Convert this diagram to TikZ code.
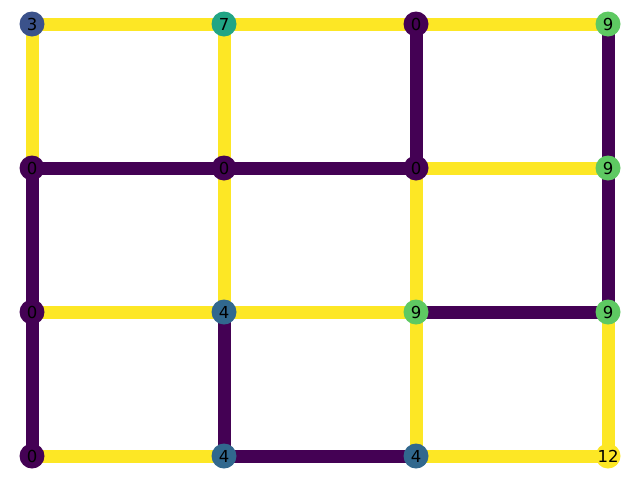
\documentclass[tikz,border=0pt]{standalone}
\usepackage{fontspec}
\setmainfont{DejaVu Sans}
\usetikzlibrary{backgrounds}
\definecolor{vA}{HTML}{440154}
\definecolor{vB}{HTML}{3B528B}
\definecolor{vC}{HTML}{31688E}
\definecolor{vD}{HTML}{21A585}
\definecolor{vE}{HTML}{5EC962}
\definecolor{vF}{HTML}{FDE725}
\begin{document}
\begin{tikzpicture}[x=1pt,y=-1pt,
  vtx/.style={circle,minimum size=25pt,inner sep=0pt,font=\fontsize{16.5pt}{18pt}\selectfont},
  hi/.style={draw=vF,line width=13pt},
  lo/.style={draw=vA,line width=13pt}]
\useasboundingbox (0,0) rectangle (640,480);
% nodes
\node[vtx,fill=vB] (a1) at (32,24) {3};
\node[vtx,fill=vD] (a2) at (224,24) {7};
\node[vtx,fill=vA] (a3) at (416,24) {0};
\node[vtx,fill=vE] (a4) at (608,24) {9};
\node[vtx,fill=vA] (b1) at (32,168) {0};
\node[vtx,fill=vA] (b2) at (224,168) {0};
\node[vtx,fill=vA] (b3) at (416,168) {0};
\node[vtx,fill=vE] (b4) at (608,168) {9};
\node[vtx,fill=vA] (c1) at (32,312) {0};
\node[vtx,fill=vC] (c2) at (224,312) {4};
\node[vtx,fill=vE] (c3) at (416,312) {9};
\node[vtx,fill=vE] (c4) at (608,312) {9};
\node[vtx,fill=vA] (d1) at (32,456) {0};
\node[vtx,fill=vC] (d2) at (224,456) {4};
\node[vtx,fill=vC] (d3) at (416,456) {4};
\node[vtx,fill=vF] (d4) at (608,456) {12};
% edges behind nodes
\begin{pgfonlayer}{background}
\draw[hi] (a1.center) -- (a2.center);
\draw[hi] (a2.center) -- (a3.center);
\draw[hi] (a3.center) -- (a4.center);
\draw[hi] (a1.center) -- (b1.center);
\draw[hi] (a2.center) -- (b2.center);
\draw[lo] (a3.center) -- (b3.center);
\draw[lo] (a4.center) -- (b4.center);
\draw[lo] (b1.center) -- (b2.center);
\draw[lo] (b2.center) -- (b3.center);
\draw[hi] (b3.center) -- (b4.center);
\draw[lo] (b1.center) -- (c1.center);
\draw[hi] (b2.center) -- (c2.center);
\draw[hi] (b3.center) -- (c3.center);
\draw[lo] (b4.center) -- (c4.center);
\draw[hi] (c1.center) -- (c2.center);
\draw[hi] (c2.center) -- (c3.center);
\draw[lo] (c3.center) -- (c4.center);
\draw[lo] (c1.center) -- (d1.center);
\draw[lo] (c2.center) -- (d2.center);
\draw[hi] (c3.center) -- (d3.center);
\draw[hi] (c4.center) -- (d4.center);
\draw[hi] (d1.center) -- (d2.center);
\draw[lo] (d2.center) -- (d3.center);
\draw[hi] (d3.center) -- (d4.center);
\end{pgfonlayer}
\end{tikzpicture}
\end{document}
